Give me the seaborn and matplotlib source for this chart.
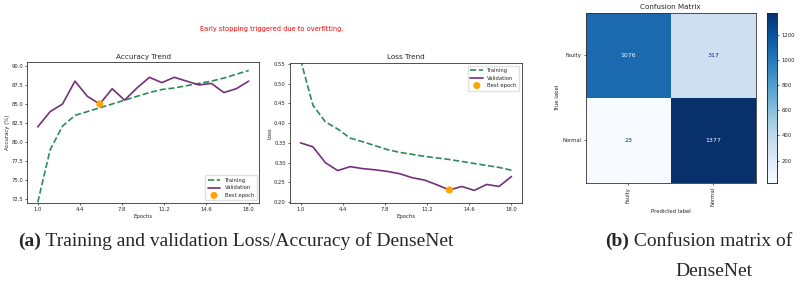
import numpy as np
import pandas as pd
import matplotlib
matplotlib.use("Agg")
import matplotlib.pyplot as plt
import seaborn as sns

# ---------------- data ----------------
epochs = list(range(1, 19))
train_acc = [72.1, 79.0, 82.1, 83.5, 84.0, 84.5, 85.0, 85.5, 86.0, 86.5, 86.9,
             87.1, 87.4, 87.7, 88.0, 88.4, 88.9, 89.4]
val_acc = [82.0, 84.0, 85.0, 88.0, 86.0, 85.0, 87.0, 85.5, 87.1, 88.5, 87.8,
           88.5, 88.0, 87.5, 87.7, 86.5, 87.0, 88.0]
train_loss = [0.56, 0.445, 0.403, 0.385, 0.362, 0.353, 0.343, 0.333, 0.326, 0.321,
              0.316, 0.312, 0.308, 0.303, 0.298, 0.293, 0.288, 0.281]
val_loss = [0.35, 0.34, 0.30, 0.28, 0.29, 0.285, 0.282, 0.278, 0.272, 0.262,
            0.256, 0.244, 0.231, 0.24, 0.23, 0.245, 0.24, 0.265]
best_acc_epoch = 6
best_loss_epoch = 13

class_names = ["Faulty", "Normal"]
cm_values = [[1076, 317],
             [23, 1377]]
cbar_ticks = [200, 400, 600, 800, 1000, 1200]
x_ticks = [1.0, 4.4, 7.8, 11.2, 14.6, 18.0]
acc_ticks = [72.5, 75.0, 77.5, 80.0, 82.5, 85.0, 87.5, 90.0]
loss_ticks = [0.20, 0.25, 0.30, 0.35, 0.40, 0.45, 0.50, 0.55]

# ---------------- style ----------------
sns.set_style("ticks")
plt.rcParams["font.family"] = ["DejaVu Sans"]
GREEN = "#2e8b57"
PURPLE = "#74307c"
ORANGE = "#ffa500"
TICK_FS = 3.8
LAB_FS = 3.9
TITLE_FS = 5.2
LW = 1.2

fig = plt.figure(figsize=(8.0, 2.86), dpi=100)

df_acc = pd.DataFrame({"Epoch": epochs, "Training": train_acc, "Validation": val_acc})
df_loss = pd.DataFrame({"Epoch": epochs, "Training": train_loss, "Validation": val_loss})


def style_axis(ax):
    ax.tick_params(axis="both", labelsize=TICK_FS, length=1.5, width=0.5, pad=1.5)
    for s in ax.spines.values():
        s.set_visible(True)
        s.set_linewidth(0.6)
        s.set_color("#333333")


# Accuracy plot
ax1 = fig.add_axes([0.034, 0.290, 0.290, 0.493])
sns.lineplot(data=df_acc, x="Epoch", y="Training", ax=ax1, color=GREEN,
             linestyle="--", linewidth=LW, label="Training")
sns.lineplot(data=df_acc, x="Epoch", y="Validation", ax=ax1, color=PURPLE,
             linewidth=LW, label="Validation")
best_a = df_acc[df_acc["Epoch"] == best_acc_epoch]
sns.scatterplot(data=best_a, x="Epoch", y="Validation", ax=ax1, color=ORANGE,
                s=26, edgecolor="none", zorder=5, label="Best epoch")
ax1.set_ylim(72.0, 90.5)
ax1.set_xticks(x_ticks)
ax1.set_xticklabels([f"{t:.1f}" for t in x_ticks])
ax1.set_yticks(acc_ticks)
ax1.set_yticklabels([f"{t:.1f}" for t in acc_ticks])
ax1.set_title("Accuracy Trend", fontsize=TITLE_FS, pad=2.5)
ax1.set_xlabel("Epochs", fontsize=LAB_FS, labelpad=1)
ax1.set_ylabel("Accuracy (%)", fontsize=LAB_FS, labelpad=1)
style_axis(ax1)
ax1.legend(loc="lower right", fontsize=3.8, frameon=True, handlelength=2.4,
           borderpad=0.5, labelspacing=0.45, framealpha=0.9, edgecolor="#dddddd")

# Loss plot
ax2 = fig.add_axes([0.3625, 0.290, 0.290, 0.490])
sns.lineplot(data=df_loss, x="Epoch", y="Training", ax=ax2, color=GREEN,
             linestyle="--", linewidth=LW, label="Training")
sns.lineplot(data=df_loss, x="Epoch", y="Validation", ax=ax2, color=PURPLE,
             linewidth=LW, label="Validation")
best_l = df_loss[df_loss["Epoch"] == best_loss_epoch]
sns.scatterplot(data=best_l, x="Epoch", y="Validation", ax=ax2, color=ORANGE,
                s=26, edgecolor="none", zorder=5, label="Best epoch")
ax2.set_ylim(0.198, 0.552)
ax2.set_xticks(x_ticks)
ax2.set_xticklabels([f"{t:.1f}" for t in x_ticks])
ax2.set_yticks(loss_ticks)
ax2.set_yticklabels([f"{t:.2f}" for t in loss_ticks])
ax2.set_title("Loss Trend", fontsize=TITLE_FS, pad=2.5)
ax2.set_xlabel("Epochs", fontsize=LAB_FS, labelpad=1)
ax2.set_ylabel("Loss", fontsize=LAB_FS, labelpad=1)
style_axis(ax2)
ax2.legend(loc="upper right", fontsize=3.8, frameon=True, handlelength=2.4,
           borderpad=0.5, labelspacing=0.45, framealpha=0.9, edgecolor="#dddddd")

# Red note
fig.text(0.34, 0.897, "Early stopping triggered due to overfitting.",
         color="red", fontsize=4.8, ha="center", va="center")

# Confusion matrix
ax3 = fig.add_axes([0.732, 0.361, 0.213, 0.595])
cax = fig.add_axes([0.959, 0.361, 0.0125, 0.595])
cm_df = pd.DataFrame(cm_values, index=class_names, columns=class_names)
sns.heatmap(cm_df, annot=True, fmt="d", cmap="Blues", ax=ax3, cbar_ax=cax,
            annot_kws={"fontsize": 4.5}, vmin=23, vmax=1377,
            cbar_kws={"ticks": cbar_ticks})
cmap = plt.get_cmap("Blues")
thresh = (23 + 1377) / 2
vals = np.array(cm_values).ravel()
for t, v in zip(ax3.texts, vals):
    t.set_color(cmap(0.0) if v > thresh else cmap(1.0))
ax3.set_title("Confusion Matrix", fontsize=TITLE_FS, pad=2.5)
ax3.set_xlabel("Predicted label", fontsize=LAB_FS, labelpad=2)
ax3.set_ylabel("True label", fontsize=LAB_FS, labelpad=2)
ax3.tick_params(axis="both", labelsize=TICK_FS, length=1.5, width=0.5, pad=1.5)
plt.setp(ax3.get_xticklabels(), rotation=90)
plt.setp(ax3.get_yticklabels(), rotation=0)
for s in ax3.spines.values():
    s.set_visible(True)
    s.set_linewidth(0.6)
    s.set_color("#333333")
cax.tick_params(labelsize=TICK_FS, length=1.5, width=0.5, pad=1.5)
for s in cax.spines.values():
    s.set_visible(True)
    s.set_linewidth(0.5)

# Captions
SERIF = ["Liberation Serif", "DejaVu Serif"]
CAP_FS = 14


def caption(x, y, bold, rest):
    t1 = fig.text(x, y, bold, fontsize=CAP_FS, fontweight="bold",
                  family=SERIF, ha="left", va="center")
    fig.canvas.draw()
    bb = t1.get_window_extent(renderer=fig.canvas.get_renderer())
    x2 = bb.x1 / fig.bbox.width
    fig.text(x2, y, rest, fontsize=CAP_FS, family=SERIF, ha="left", va="center")


caption(0.0225, 0.157, "(a)", " Training and validation Loss/Accuracy of DenseNet")
caption(0.757, 0.157, "(b)", " Confusion matrix of")
fig.text(0.893, 0.049, "DenseNet", fontsize=CAP_FS, family=SERIF,
         ha="center", va="center")

fig.savefig("out.png", dpi=100)
